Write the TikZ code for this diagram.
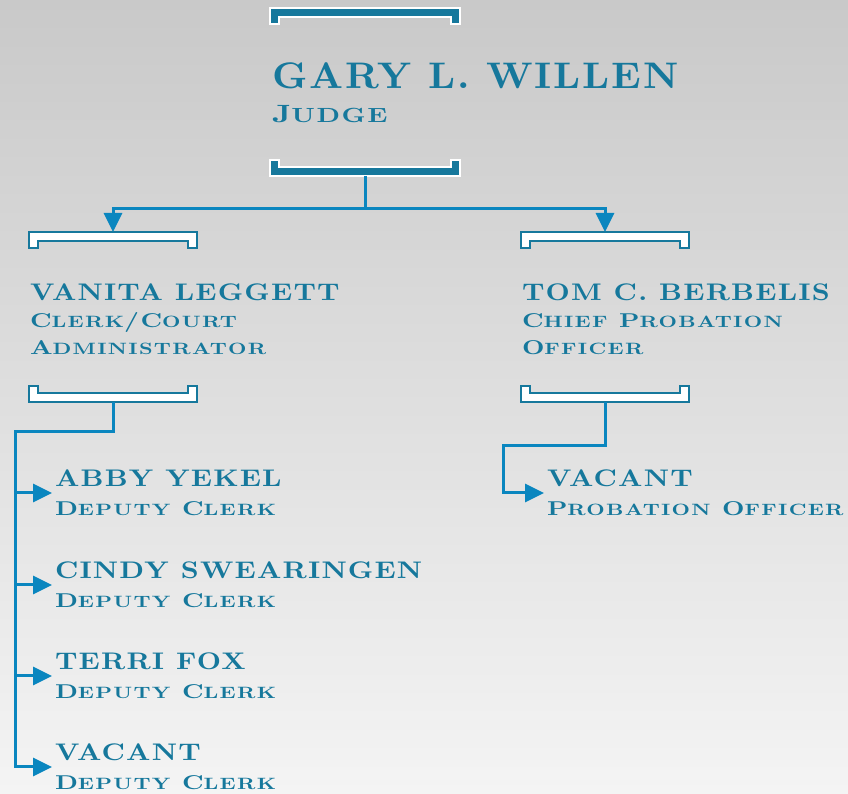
\documentclass[tikz,border=0pt]{standalone}
\usepackage{fontspec}
\usepackage{graphicx}
\usetikzlibrary{arrows.meta}
\newfontfamily\bossfont[FakeStretch=1.06,LetterSpace=5]{lmroman10-bold.otf}
\newfontfamily\namefont[FakeStretch=1.17,LetterSpace=5]{lmroman10-bold.otf}
\newfontfamily\titlefont[FakeStretch=1.3,LetterSpace=8]{lmroman10-bold.otf}
\definecolor{inkteal}{HTML}{16789C}
\definecolor{linkblue}{HTML}{0A86BF}
\definecolor{bgtop}{HTML}{C9C9C9}
\definecolor{bgbot}{HTML}{F4F4F4}
\newcommand\ttl{\titlefont\fontsize{20}{20}\selectfont}
\newcommand\lo[1]{\scalebox{0.82}{#1}}

\begin{document}
\begin{tikzpicture}[x=1pt, y=-1pt,
    link/.style={draw=linkblue, line width=3pt},
    arr/.style={link, -{Triangle[length=19pt, width=18pt]}},
    lightbrk/.style={fill=white, draw=inkteal, line width=1.8pt},
    darkbrk/.style={fill=inkteal, draw=white, line width=1.8pt},
    pics/brktop/.style 2 args={code={
        \path[#2] (-#1,0) -- (#1,0) -- (#1,16) -- (#1-9,16) -- (#1-9,9)
            -- (9-#1,9) -- (9-#1,16) -- (-#1,16) -- cycle;
        \coordinate (-n) at (0,0);}},
    pics/brkbot/.style 2 args={code={
        \path[#2] (-#1,0) -- (#1,0) -- (#1,-16) -- (#1-9,-16) -- (#1-9,-9)
            -- (9-#1,-9) -- (9-#1,-16) -- (-#1,-16) -- cycle;
        \coordinate (-s) at (0,0);}},
    person/.style={anchor=north west, inner sep=0pt, outer sep=3pt, align=left,
        text=inkteal, font=\namefont\fontsize{24}{29}\selectfont},
    chief/.style={person, font=\namefont\fontsize{24}{27}\selectfont},
    judge/.style={person, font=\bossfont\fontsize{37}{34}\selectfont}]

\useasboundingbox (0,0) rectangle (848,794);
\shade[top color=bgtop, bottom color=bgbot] (0,0) rectangle (848,794);

% judge
\pic (gt) at (365,8) {brktop={95}{darkbrk}};
\node[judge] (gw) at (269,60) {GARY L. WILLEN\\{\ttl\fontsize{25}{25}\selectfont J\lo{UDGE}}};
\pic (gb) at (365,176) {brkbot={95}{darkbrk}};

% clerk and probation
\pic (vt) at (113,232) {brktop={84}{lightbrk}};
\node[chief] (vl) at (27,281) {VANITA LEGGETT\\{\ttl C\lo{LERK}/C\lo{OURT}}\\{\ttl A\lo{DMINISTRATOR}}};
\pic (vb) at (113,402) {brkbot={84}{lightbrk}};

\pic (tt) at (605,232) {brktop={84}{lightbrk}};
\node[chief] (tb) at (519,281) {TOM C. BERBELIS\\{\ttl C\lo{HIEF} P\lo{ROBATION}}\\{\ttl O\lo{FFICER}}};
\pic (tbb) at (605,402) {brkbot={84}{lightbrk}};

% staff
\node[person] (aby) at (52,467) {ABBY YEKEL\\{\ttl D\lo{EPUTY} C\lo{LERK}}};
\node[person] (cin) at (52,559) {CINDY SWEARINGEN\\{\ttl D\lo{EPUTY} C\lo{LERK}}};
\node[person] (ter) at (52,650) {TERRI FOX\\{\ttl D\lo{EPUTY} C\lo{LERK}}};
\node[person] (vac) at (52,741) {VACANT\\{\ttl D\lo{EPUTY} C\lo{LERK}}};
\node[person] (pvac) at (544,467) {VACANT\\{\ttl P\lo{ROBATION} O\lo{FFICER}}};

% connectors
\draw[link] (gb-s) -- ++(0,33) coordinate (fork);
\draw[arr] (fork) -| (vt-n);
\draw[arr] (fork) -| (tt-n);

\coordinate (vspine) at (15,431);
\draw[arr] (vb-s) |- (vspine) |- (vac.west);
\foreach \n in {aby,cin,ter}
    \draw[arr] (vspine |- \n.west) -- (\n.west);

\coordinate (tbend) at (503,445);
\draw[arr] (tbb-s) |- (tbend) |- (pvac.west);

\end{tikzpicture}
\end{document}
